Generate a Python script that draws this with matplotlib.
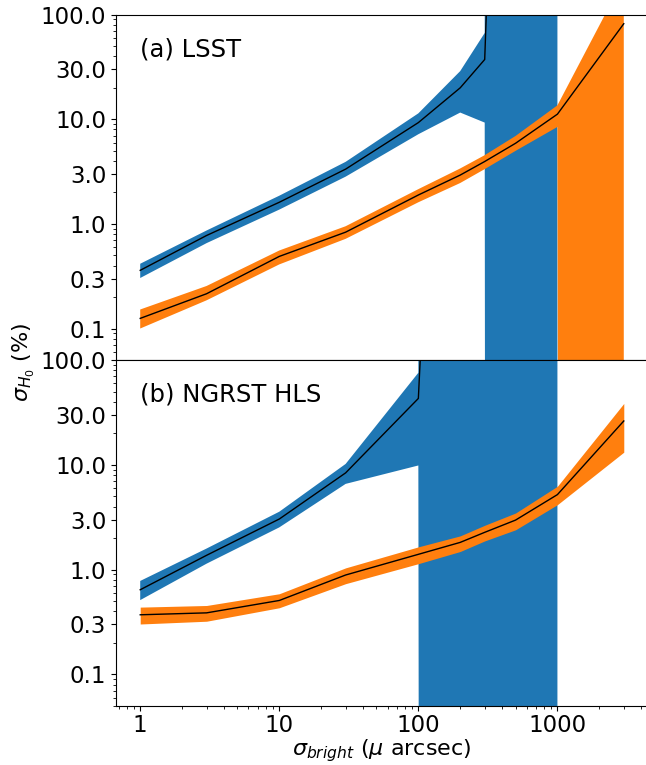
import numpy as np
import matplotlib
matplotlib.use("Agg")
import matplotlib.pyplot as plt
from matplotlib.ticker import NullFormatter

# astrometric precision of the bright image (micro arcsec)
sigma_bright = [1, 3, 10, 30, 100, 200, 300, 500, 1000, 3000]

# off-scale values where H0 is no longer constrained
UNBOUND_HI = 1e300
UNBOUND_MID = 1e10
UNBOUND_LO = 1e-300
nan = np.nan

# (a) LSST
lsst_blue_mid = [0.36, 0.775, 1.61, 3.34, 9.3, 20.0, 37.3, UNBOUND_MID, UNBOUND_MID, nan]
lsst_blue_lo = [0.304, 0.655, 1.37, 2.83, 7.2, 11.6, 9.3, UNBOUND_LO, UNBOUND_LO, nan]
lsst_blue_hi = [0.416, 0.865, 1.86, 3.92, 11.4, 28.9, 66.9, UNBOUND_HI, UNBOUND_HI, nan]
lsst_orange_mid = [0.125, 0.215, 0.489, 0.834, 1.89, 2.93, 3.95, 5.9, 11.2, 82.0]
lsst_orange_lo = [0.100, 0.186, 0.41, 0.72, 1.61, 2.46, 3.34, 4.99, 8.45, UNBOUND_LO]
lsst_orange_hi = [0.152, 0.255, 0.557, 0.95, 2.15, 3.39, 4.54, 6.93, 13.6, 220.0]

# (b) NGRST HLS
ngrst_blue_mid = [0.643, 1.37, 3.04, 8.38, 43.0, UNBOUND_MID, UNBOUND_MID, UNBOUND_MID, UNBOUND_MID, nan]
ngrst_blue_lo = [0.512, 1.14, 2.53, 6.58, 9.86, UNBOUND_LO, UNBOUND_LO, UNBOUND_LO, UNBOUND_LO, nan]
ngrst_blue_hi = [0.78, 1.59, 3.57, 10.2, 75.6, UNBOUND_HI, UNBOUND_HI, UNBOUND_HI, UNBOUND_HI, nan]
ngrst_orange_mid = [0.371, 0.387, 0.508, 0.889, 1.40, 1.82, 2.27, 2.97, 5.2, 26.2]
ngrst_orange_lo = [0.303, 0.322, 0.433, 0.735, 1.14, 1.49, 1.88, 2.40, 4.17, 13.2]
ngrst_orange_hi = [0.439, 0.455, 0.589, 1.04, 1.65, 2.10, 2.65, 3.47, 6.25, 38.5]

panel_labels = ["(a) LSST", "(b) NGRST HLS"]
y_ticks = [0.1, 0.3, 1.0, 3.0, 10.0, 30.0, 100.0]
y_tick_labels = ["0.1", "0.3", "1.0", "3.0", "10.0", "30.0", "100.0"]
x_ticks = [1, 10, 100, 1000]
x_tick_labels = ["1", "10", "100", "1000"]

panels = [
    (lsst_blue_lo, lsst_blue_mid, lsst_blue_hi, lsst_orange_lo, lsst_orange_mid, lsst_orange_hi),
    (ngrst_blue_lo, ngrst_blue_mid, ngrst_blue_hi, ngrst_orange_lo, ngrst_orange_mid, ngrst_orange_hi),
]

fig = plt.figure(figsize=(6.46, 7.65), dpi=100)
ax_a = fig.add_axes([0.1796, 0.5294, 0.8235, 0.4514])
ax_b = fig.add_axes([0.1796, 0.0771, 0.8235, 0.4523], sharex=ax_a)

x = np.array(sigma_bright, dtype=float)
for ax, label, (b_lo, b_mid, b_hi, o_lo, o_mid, o_hi) in zip([ax_a, ax_b], panel_labels, panels):
    ax.fill_between(x, b_lo, b_hi, color="#1f77b4", lw=0)
    ax.plot(x, b_mid, color="k", lw=1.0)
    ax.fill_between(x, o_lo, o_hi, color="#ff7f0e", lw=0)
    ax.plot(x, o_mid, color="k", lw=1.0)

    ax.set_xscale("log")
    ax.set_yscale("log")
    ax.set_xlim(0.67, 4480)
    ax.set_ylim(0.05, 100)
    ax.set_yticks(y_ticks, labels=y_tick_labels)
    ax.yaxis.set_minor_formatter(NullFormatter())
    ax.tick_params(labelsize=16.5)
    ax.text(0.045, 0.899, label, transform=ax.transAxes, fontsize=17.5,
            ha="left", va="center")

ax_b.set_xticks(x_ticks, labels=x_tick_labels)
ax_b.xaxis.set_minor_formatter(NullFormatter())
ax_b.tick_params(axis="x", pad=2.5)
ax_a.tick_params(labelbottom=False)
ax_b.set_xlabel(r"$\sigma_{bright}$ ($\mu$ arcsec)", fontsize=16, labelpad=0)
fig.text(0.037, 1 - 362 / 765, r"$\sigma_{H_0}$ (%)", rotation=90, fontsize=16,
         ha="center", va="center")

fig.savefig("out.png", dpi=100)
